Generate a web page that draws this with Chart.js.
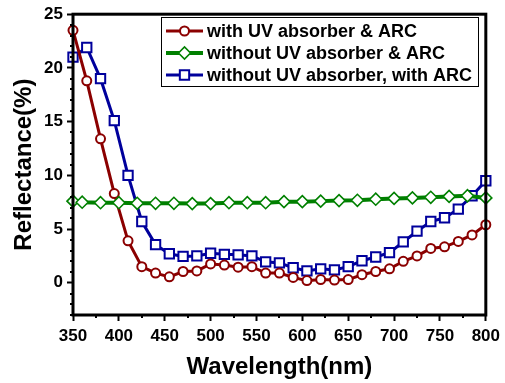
<!DOCTYPE html>
<html>
<head>
<meta charset="utf-8">
<script src="https://cdn.jsdelivr.net/npm/chart.js@4.4.1/dist/chart.umd.min.js"></script>
<style>
  html, body { margin: 0; padding: 0; background: #fff; }
</style>
</head>
<body>
<canvas id="reflChart" width="505" height="383"></canvas>
<script>
// ── Reflectance vs wavelength ──────────────────────────────────

// red + blue curves share the same sampling (every 15 nm)
const wavelengthA = [350, 365, 380, 395, 410, 425, 440, 455, 470, 485, 500, 515, 530, 545, 560, 575,
  590, 605, 620, 635, 650, 665, 680, 695, 710, 725, 740, 755, 770, 785, 800];
const withUvArc = [23.5, 18.8, 13.4, 8.3, 3.9, 1.5, 0.9, 0.55, 1.05, 1.1, 1.75, 1.65, 1.45, 1.5, 0.9, 0.9,
  0.5, 0.2, 0.3, 0.25, 0.3, 0.75, 1.05, 1.3, 2.0, 2.5, 3.2, 3.35, 3.85, 4.45, 5.4];
const noUvWithArc = [21.0, 21.9, 19.0, 15.1, 10.0, 5.7, 3.55, 2.7, 2.45, 2.5, 2.75, 2.65, 2.6, 2.5, 1.95, 1.85,
  1.4, 1.1, 1.3, 1.2, 1.5, 2.05, 2.4, 2.8, 3.8, 4.8, 5.7, 6.05, 6.85, 8.1, 9.5];

// green curve is sampled every 20 nm
const wavelengthB = [350, 360, 380, 400, 420, 440, 460, 480, 500, 520, 540, 560, 580, 600,
  620, 640, 660, 680, 700, 720, 740, 760, 780, 800];
const noUvNoArc = [7.6, 7.5, 7.45, 7.45, 7.4, 7.4, 7.4, 7.37, 7.37, 7.45, 7.45, 7.45, 7.55, 7.55,
  7.6, 7.65, 7.68, 7.78, 7.85, 7.9, 7.96, 8.04, 8.1, 7.9];

const seriesNames = ['with UV absorber & ARC', 'without UV absorber & ARC', 'without UV absorber, with ARC'];
const xTicks = [350, 400, 450, 500, 550, 600, 650, 700, 750, 800];
const yTicks = [0, 5, 10, 15, 20, 25];

const FONT = "'Liberation Sans', Arial, sans-serif";
const toXY = (xs, ys) => xs.map((x, i) => ({ x: x, y: ys[i] }));

// frame, minor ticks and the boxed legend inside the plot
const framePlugin = {
  id: 'framePlugin',
  afterDraw(chart) {
    const { ctx, chartArea: a, scales: { x, y } } = chart;
    ctx.save();
    ctx.strokeStyle = '#000';
    ctx.lineWidth = 2;
    ctx.beginPath();
    for (let v = 375; v < 800; v += 50) {
      const px = Math.round(x.getPixelForValue(v));
      ctx.moveTo(px, a.bottom); ctx.lineTo(px, a.bottom + 3);
    }
    for (let v = -3; v <= 25; v++) {
      if (v % 5 === 0) continue;
      const py = Math.round(y.getPixelForValue(v));
      ctx.moveTo(a.left, py); ctx.lineTo(a.left - 3, py);
    }
    ctx.stroke();

    ctx.lineWidth = 3;
    ctx.strokeRect(a.left, a.top, a.right - a.left, a.bottom - a.top);

    // legend
    const box = { x: 161.5, y: 17.5, w: 317, h: 69 };
    ctx.lineWidth = 1;
    ctx.fillStyle = '#fff';
    ctx.fillRect(box.x, box.y, box.w, box.h);
    ctx.strokeRect(box.x, box.y, box.w, box.h);
    const order = [0, 1, 2];
    order.forEach((di, row) => {
      const ds = chart.data.datasets[di];
      const cy = 31 + row * 22;
      ctx.strokeStyle = ds.borderColor;
      ctx.lineWidth = ds.borderWidth;
      ctx.beginPath();
      ctx.moveTo(166, cy); ctx.lineTo(203, cy);
      ctx.stroke();
      ctx.fillStyle = '#fff';
      ctx.lineWidth = ds.pointBorderWidth;
      Chart.helpers.drawPoint(ctx, {
        pointStyle: ds.pointStyle, rotation: 0, radius: ds.pointRadius, borderWidth: ds.pointBorderWidth
      }, 184.5, cy);
      ctx.fillStyle = '#000';
      ctx.font = 'bold 18px ' + FONT;
      ctx.textBaseline = 'middle';
      ctx.textAlign = 'left';
      ctx.fillText(ds.label, 207, cy + 1);
    });
    ctx.restore();
  }
};

const tickFont = { family: FONT, size: 17, weight: 'bold' };
const titleFont = { family: FONT, size: 24, weight: 'bold' };

new Chart(document.getElementById('reflChart').getContext('2d'), {
  type: 'line',
  data: {
    datasets: [
      {
        label: seriesNames[0],
        data: toXY(wavelengthA, withUvArc),
        borderColor: '#8b0000',
        backgroundColor: '#fff',
        borderWidth: 3,
        pointStyle: 'circle',
        pointRadius: 4.5,
        pointBorderWidth: 2,
        pointBackgroundColor: '#fff',
        order: 1
      },
      {
        label: seriesNames[1],
        data: toXY(wavelengthB, noUvNoArc),
        borderColor: '#008000',
        backgroundColor: '#fff',
        borderWidth: 4,
        pointStyle: 'rectRot',
        pointRadius: 6,
        pointBorderWidth: 1.6,
        pointBackgroundColor: '#fff',
        order: 0
      },
      {
        label: seriesNames[2],
        data: toXY(wavelengthA, noUvWithArc),
        borderColor: '#00009c',
        backgroundColor: '#fff',
        borderWidth: 3,
        pointStyle: 'rect',
        pointRadius: 6.6,
        pointBorderWidth: 2,
        pointBackgroundColor: '#fff',
        order: 2
      }
    ]
  },
  options: {
    responsive: false,
    animation: false,
    clip: false,
    layout: { padding: { top: 13, right: 17, left: 0, bottom: 0 } },
    plugins: {
      legend: { display: false },
      tooltip: { enabled: false }
    },
    elements: { line: { tension: 0 } },
    scales: {
      x: {
        type: 'linear',
        min: 350,
        max: 800,
        afterFit: (scale) => { scale.height = 68; },
        afterBuildTicks: (scale) => { scale.ticks = xTicks.map(v => ({ value: v })); },
        border: { display: false },
        grid: { drawOnChartArea: false, drawTicks: true, tickLength: 6, tickWidth: 2, tickColor: '#000' },
        ticks: { color: '#000', font: tickFont, padding: 5, maxRotation: 0 },
        title: { display: true, text: 'Wavelength(nm)', color: '#000', font: titleFont, padding: { top: 0, bottom: 1 } }
      },
      y: {
        type: 'linear',
        min: -3,
        max: 25,
        afterFit: (scale) => { scale.width = 73; },
        afterBuildTicks: (scale) => { scale.ticks = yTicks.map(v => ({ value: v })); },
        border: { display: false },
        grid: { drawOnChartArea: false, drawTicks: true, tickLength: 6, tickWidth: 2, tickColor: '#000' },
        ticks: { color: '#000', font: tickFont, padding: 4 },
        title: { display: true, text: 'Reflectance(%)', color: '#000', font: titleFont, padding: { top: 10, bottom: 0 } }
      }
    }
  },
  plugins: [framePlugin]
});
</script>
</body>
</html>
